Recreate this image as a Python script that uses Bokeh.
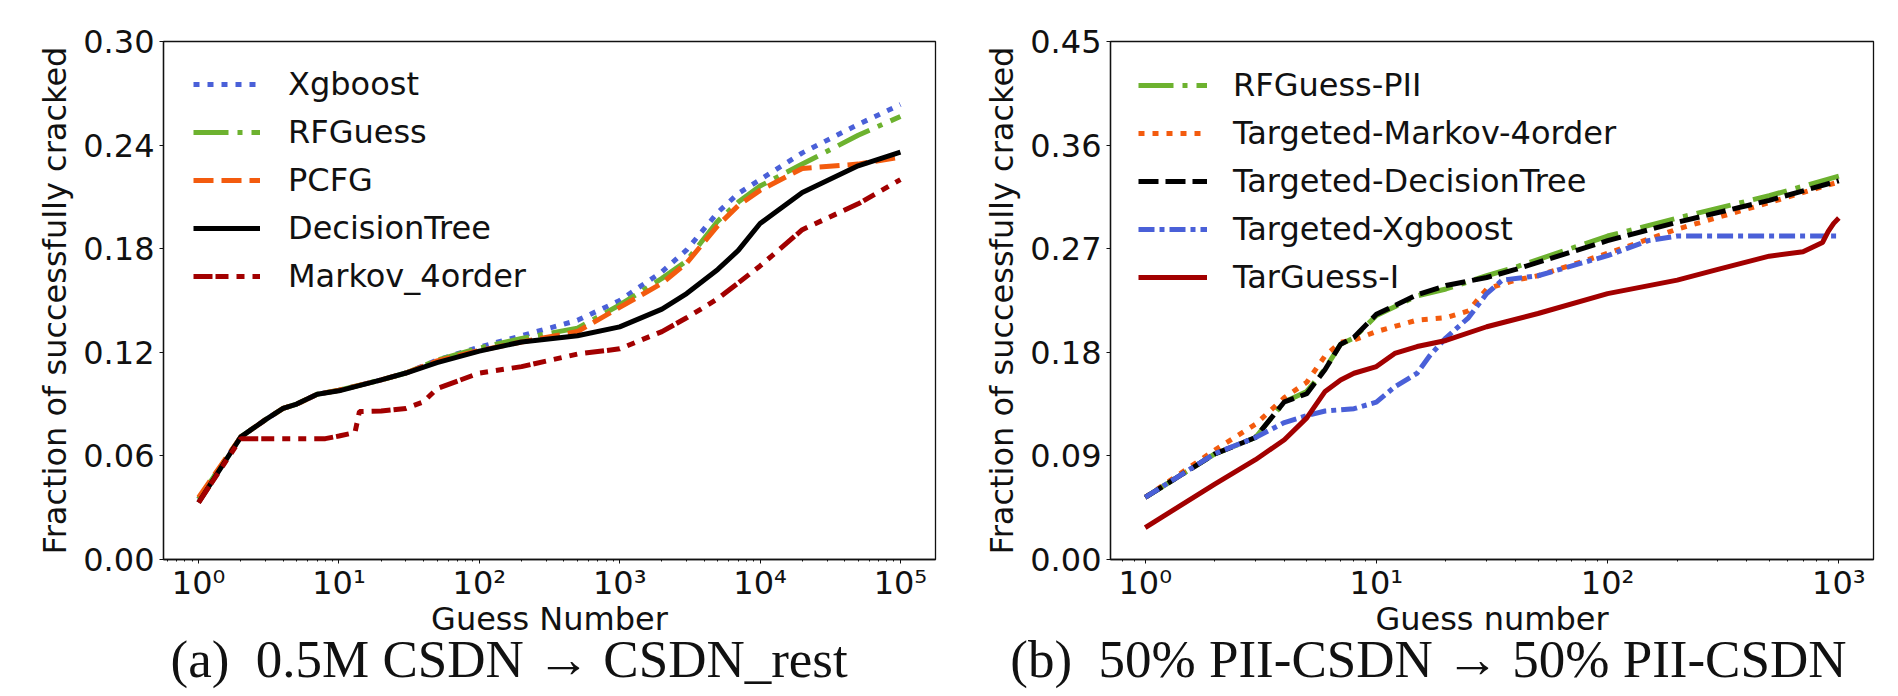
from bokeh.plotting import figure
from bokeh.models import Range1d, FixedTicker, Legend, LegendItem, CustomJSTickFormatter, NumeralTickFormatter, Title
from bokeh.layouts import row
from bokeh.embed import file_html
from bokeh.resources import INLINE

FONT = "DejaVu Sans"
SERIF = "Liberation Serif"

# ---------------- data: panel (a) ----------------
g_left = [1, 2, 3, 4, 5, 7, 10, 20, 30, 50, 100, 200, 500, 1000, 2000, 3000, 5000, 7000,
          10000, 20000, 50000, 100000]
xgboost = [0.035, 0.071, 0.081, 0.0875, 0.090, 0.0957, 0.098, 0.104, 0.108, 0.1155, 0.123, 0.1296,
           0.1385, 0.150, 0.1666, 0.1793, 0.201, 0.212, 0.220, 0.2355, 0.252, 0.2635]
rfguess = [0.035, 0.071, 0.081, 0.0875, 0.090, 0.0957, 0.098, 0.104, 0.108, 0.1155, 0.1225, 0.128,
           0.134, 0.1474, 0.1628, 0.173, 0.196, 0.207, 0.2163, 0.229, 0.2457, 0.2566]
pcfg = [0.036, 0.071, 0.081, 0.0875, 0.090, 0.0957, 0.098, 0.104, 0.108, 0.115, 0.121, 0.126,
        0.132, 0.146, 0.160, 0.1717, 0.1934, 0.205, 0.2138, 0.2265, 0.229, 0.233]
decision_tree = [0.033, 0.071, 0.081, 0.0875, 0.090, 0.0957, 0.0977, 0.104, 0.108, 0.114, 0.1207,
                 0.126, 0.1296, 0.1347, 0.145, 0.154, 0.168, 0.179, 0.1946, 0.2125, 0.228, 0.236]
g_markov = [1, 2, 3, 5, 8, 10, 13, 14, 20, 30, 40, 50, 100, 200, 500, 1000, 2000, 3000, 5000,
            10000, 20000, 50000, 100000]
markov_4order = [0.033, 0.070, 0.070, 0.070, 0.070, 0.0715, 0.0735, 0.0857, 0.086, 0.0875, 0.0913,
                 0.099, 0.108, 0.1117, 0.119, 0.122, 0.132, 0.140, 0.151, 0.170, 0.191, 0.206, 0.220]

# ---------------- data: panel (b) ----------------
g_right = [1, 2, 3, 4, 5, 6, 7, 8, 10, 15, 20, 30, 40, 100, 200, 500, 1000]
rfguess_pii = [0.054, 0.0917, 0.106, 0.137, 0.146, 0.1656, 0.187, 0.1926, 0.212, 0.229, 0.235,
               0.2465, 0.254, 0.281, 0.2966, 0.316, 0.333]
t_decision_tree = [0.054, 0.0917, 0.106, 0.137, 0.144, 0.165, 0.187, 0.193, 0.213, 0.230, 0.238,
                   0.245, 0.252, 0.277, 0.293, 0.312, 0.329]
g_tmarkov = [1, 2, 3, 4, 5, 6, 7, 8, 10, 15, 20, 25, 30, 40, 50, 100, 200, 500, 1000]
t_markov = [0.054, 0.095, 0.1175, 0.1406, 0.154, 0.177, 0.1887, 0.1907, 0.198, 0.208, 0.210, 0.216,
            0.235, 0.2427, 0.2465, 0.266, 0.287, 0.310, 0.328]
g_txgb = [1, 2, 3, 4, 5, 6, 8, 10, 12, 15, 17, 20, 25, 30, 35, 50, 100, 150, 200, 1000]
t_xgboost = [0.054, 0.092, 0.106, 0.119, 0.125, 0.129, 0.131, 0.1367, 0.150, 0.1618, 0.177, 0.1926,
             0.21, 0.231, 0.2427, 0.2465, 0.264, 0.277, 0.281, 0.281]
g_targuess = [1, 2, 3, 4, 5, 6, 7, 8, 10, 12, 15, 20, 30, 50, 100, 200, 300, 500, 700, 850, 900,
              950, 1000]
targuess_i = [0.0277, 0.0655, 0.0867, 0.104, 0.123, 0.146, 0.156, 0.1618, 0.1676, 0.179, 0.185,
              0.1903, 0.2022, 0.2137, 0.231, 0.2427, 0.252, 0.2635, 0.2673, 0.2754, 0.285, 0.292,
              0.2966]

# ---------------- ticks / labels ----------------
x_ticks_left = [1, 10, 100, 1000, 10000, 100000]
x_labels_left = ["10\u2070", "10\u00b9", "10\u00b2", "10\u00b3", "10\u2074", "10\u2075"]
x_ticks_right = [1, 10, 100, 1000]
x_labels_right = ["10\u2070", "10\u00b9", "10\u00b2", "10\u00b3"]
y_ticks_left = [0.0, 0.06, 0.12, 0.18, 0.24, 0.30]
y_ticks_right = [0.0, 0.09, 0.18, 0.27, 0.36, 0.45]
y_label = "Fraction of successfully cracked"
caption_a = "(a)\u00a0 0.5M CSDN \u2192 CSDN_rest"
caption_b = "(b)\u00a0 50% PII-CSDN \u2192 50% PII-CSDN"

BLUE = "#4a60d8"
GREEN = "#6db22f"
ORANGE = "#f35b0e"
DRED = "#a20000"
LW = 5


def minor_list(lo, hi):
    out = []
    for k in range(-1, 7):
        for m in range(2, 10):
            v = m * 10 ** k
            if lo <= v <= hi:
                out.append(v)
    return out


def style(p, xt, xl, yt, xlabel, minors):
    p.xgrid.visible = False
    p.ygrid.visible = False
    p.outline_line_color = "#111111"
    p.outline_line_width = 1.3
    p.background_fill_color = "white"
    p.border_fill_color = "white"
    p.xaxis.ticker = FixedTicker(ticks=xt, minor_ticks=minors)
    p.xaxis.formatter = CustomJSTickFormatter(args=dict(tick_vals=xt, tick_texts=xl), code="""
        for (let i = 0; i < tick_vals.length; i++) {
            if (Math.abs(tick_vals[i] - tick) < 1e-6 * tick_vals[i]) return tick_texts[i];
        }
        return "";
    """)
    p.yaxis.ticker = FixedTicker(ticks=yt)
    p.yaxis.formatter = NumeralTickFormatter(format="0.00")
    for ax in (p.xaxis[0], p.yaxis[0]):
        ax.axis_line_color = "#111111"
        ax.axis_line_width = 1.3
        ax.major_tick_line_color = "#111111"
        ax.minor_tick_line_color = "#111111"
        ax.major_tick_out = 4
        ax.major_tick_in = 0
        ax.minor_tick_in = 0
        ax.major_label_text_font = FONT
        ax.major_label_text_font_size = "32px"
        ax.major_label_text_color = "#111111"
        ax.axis_label_text_font = FONT
        ax.axis_label_text_font_size = "32px"
        ax.axis_label_text_font_style = "normal"
        ax.axis_label_text_color = "#111111"
    p.xaxis.minor_tick_out = 2
    p.yaxis.minor_tick_out = 0
    p.xaxis.major_label_standoff = 0
    p.xaxis.axis_label = xlabel
    p.xaxis.axis_label_standoff = -5
    p.yaxis.axis_label = y_label
    p.yaxis.axis_label_standoff = 6
    p.yaxis.major_label_standoff = 5


def caption(text, align, offset):
    return Title(text=text, align=align, offset=offset, vertical_align="top", standoff=-22,
                 text_font=SERIF, text_font_size="53px", text_font_style="normal",
                 text_color="#111111")


# ---------------- panel (a) ----------------
p1 = figure(width=980, height=696, x_axis_type="log",
            x_range=Range1d(10 ** -0.25, 10 ** 5.25), y_range=Range1d(0, 0.30),
            output_backend="svg", toolbar_location=None,
            min_border_left=163, min_border_right=45, min_border_top=41, min_border_bottom=134)
style(p1, x_ticks_left, x_labels_left, y_ticks_left, "Guess Number",
      minor_list(10 ** -0.25, 10 ** 5.25))

r_xgb = p1.line(g_left, xgboost, line_color=BLUE, line_width=LW, line_dash="6 8")
r_rfg = p1.line(g_left, rfguess, line_color=GREEN, line_width=LW, line_dash="35 9 5 9")
r_pcfg = p1.line(g_left, pcfg, line_color=ORANGE, line_width=LW, line_dash="20 8")
r_dt = p1.line(g_left, decision_tree, line_color="black", line_width=LW)
r_mk = p1.line(g_markov, markov_4order, line_color=DRED, line_width=LW,
               line_dash="19 3 13 8 8 8 8 8")

leg1 = Legend(items=[LegendItem(label="Xgboost", renderers=[r_xgb]),
                     LegendItem(label="RFGuess", renderers=[r_rfg]),
                     LegendItem(label="PCFG", renderers=[r_pcfg]),
                     LegendItem(label="DecisionTree", renderers=[r_dt]),
                     LegendItem(label="Markov_4order", renderers=[r_mk])],
              location=(26, 259), glyph_width=67, glyph_height=40, label_height=40,
              label_standoff=28, spacing=8, padding=4, margin=0,
              label_text_font=FONT, label_text_font_size="32px", label_text_color="#111111",
              border_line_alpha=0, background_fill_alpha=0)
p1.add_layout(leg1)
p1.add_layout(caption(caption_a, "left", 7), "below")

# ---------------- panel (b) ----------------
p2 = figure(width=918, height=696, x_axis_type="log",
            x_range=Range1d(10 ** -0.15, 10 ** 3.15), y_range=Range1d(0, 0.45),
            output_backend="svg", toolbar_location=None,
            min_border_left=125, min_border_right=25, min_border_top=41, min_border_bottom=137)
style(p2, x_ticks_right, x_labels_right, y_ticks_right, "Guess number",
      minor_list(10 ** -0.15, 10 ** 3.15))

r_rfp = p2.line(g_right, rfguess_pii, line_color=GREEN, line_width=LW, line_dash="35 9 5 9")
r_tmk = p2.line(g_tmarkov, t_markov, line_color=ORANGE, line_width=LW, line_dash="6 8")
r_tdt = p2.line(g_right, t_decision_tree, line_color="black", line_width=LW, line_dash="20 7")
r_txg = p2.line(g_txgb, t_xgboost, line_color=BLUE, line_width=LW, line_dash="16 5 5 5")
r_tg = p2.line(g_targuess, targuess_i, line_color=DRED, line_width=LW)

leg2 = Legend(items=[LegendItem(label="RFGuess-PII", renderers=[r_rfp]),
                     LegendItem(label="Targeted-Markov-4order", renderers=[r_tmk]),
                     LegendItem(label="Targeted-DecisionTree", renderers=[r_tdt]),
                     LegendItem(label="Targeted-Xgboost", renderers=[r_txg]),
                     LegendItem(label="TarGuess-I", renderers=[r_tg])],
              location=(24, 258), glyph_width=69, glyph_height=40, label_height=40,
              label_standoff=26, spacing=8, padding=4, margin=0,
              label_text_font=FONT, label_text_font_size="32px", label_text_color="#111111",
              border_line_alpha=0, background_fill_alpha=0)
p2.add_layout(leg2)
p2.add_layout(caption(caption_b, "right", 27), "below")

layout = row(p1, p2)
open("out.html", "w").write(file_html(layout, INLINE))
